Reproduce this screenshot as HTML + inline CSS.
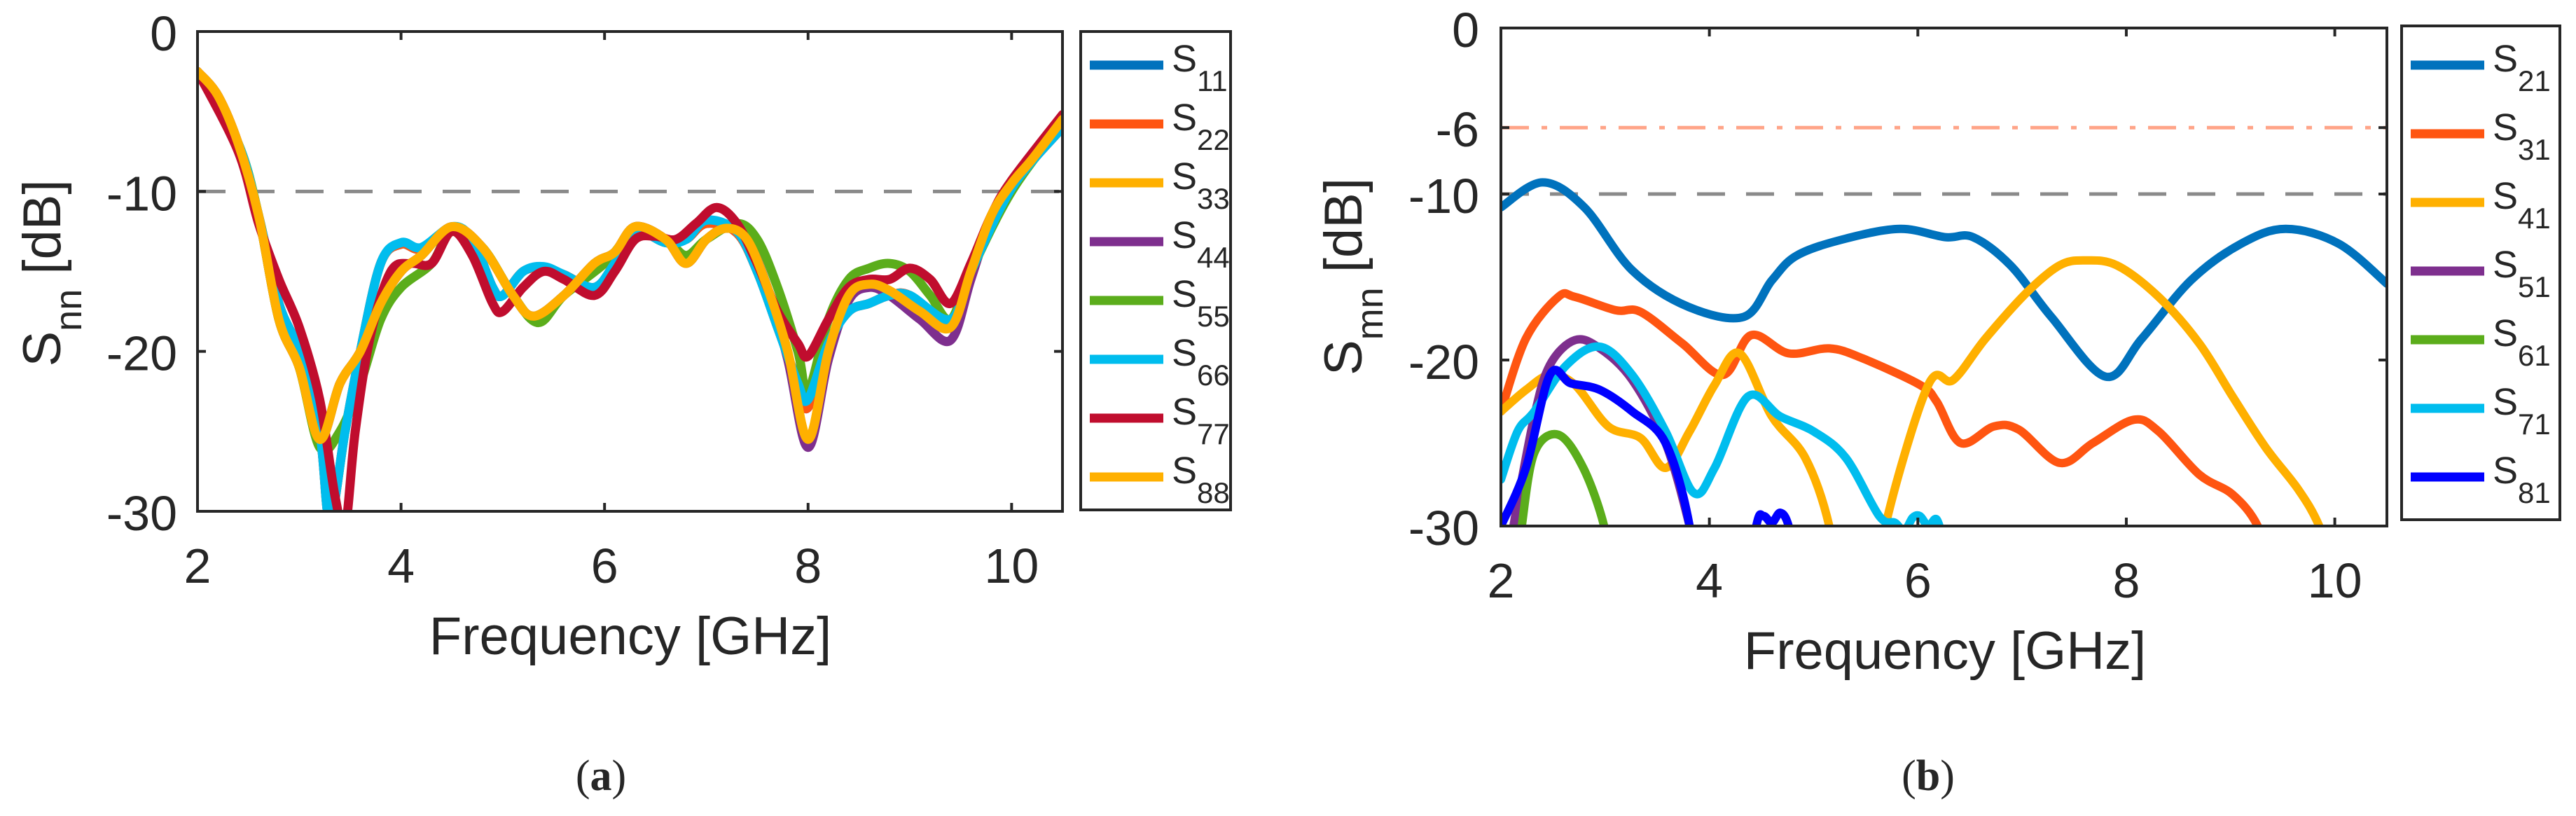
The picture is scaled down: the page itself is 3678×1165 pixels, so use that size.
<!DOCTYPE html>
<html><head><meta charset="utf-8"><style>
html,body{margin:0;padding:0;background:#fff;}
svg{display:block;}
text{font-family:"Liberation Sans",sans-serif;fill:#262626;}
</style></head><body>
<svg id="fig" width="3678" height="1165" viewBox="0 0 3678 1165" xmlns="http://www.w3.org/2000/svg">
<defs>
<clipPath id="clipA"><rect x="282" y="45" width="1235" height="685"/></clipPath>
<clipPath id="clipB"><rect x="2143" y="40" width="1265" height="711"/></clipPath>
</defs>
<g id="panelA"></g>
<g id="panelB"></g>
<text x="858" y="1128" text-anchor="middle" font-size="62" style="font-family:'Liberation Serif',serif">(<tspan font-weight="bold">a</tspan>)</text>
<text x="2753" y="1128" text-anchor="middle" font-size="62" style="font-family:'Liberation Serif',serif">(<tspan font-weight="bold">b</tspan>)</text>
</svg>
<script>
// ---- Panel (a) data ----
const xTicksA = [2, 4, 6, 8, 10];
const yTicksA = [0, -10, -20, -30];
const namesA = ["11","22","33","44","55","66","77","88"];
const colorsA = ["#0072BD","#FF5511","#FFB000","#7E2F8E","#5BAD1B","#00BDEE","#C00D2E","#FFB000"];
const s11f = [2,2.4,2.6,2.8,3.0,3.2,3.3,3.45,3.6,3.8,4.0,4.2,4.5,4.7,4.9,5.0,5.2,5.4,5.6,5.9,6.1,6.3,6.6,6.8,7.0,7.3,7.5,7.7,7.9,8.0,8.2,8.4,8.6,8.8,9.0,9.4,9.6,10,10.5];
const s11v = [-2.5,-7,-11.5,-17,-20,-25,-30.5,-25,-20,-14.5,-13.3,-13.6,-12.3,-13,-16,-16.5,-15,-14.8,-15.2,-16,-14.5,-12.5,-13.2,-13,-12,-12.6,-15,-18.5,-22,-23.5,-19.5,-17.5,-17,-16.5,-16.5,-18.3,-15,-9.8,-6];
const s22f = s11f;
const s22v = [-2.5,-7,-11.5,-17,-20,-25,-30.5,-25,-20,-14.5,-13.3,-13.6,-12.3,-13,-16,-16.5,-15,-14.8,-15.2,-16,-14.5,-12.5,-13.2,-13,-12,-12.6,-15,-18.5,-22,-23.5,-19.5,-17.5,-17,-16.5,-16.5,-18.3,-15,-9.8,-6];
const s33f = [2,2.2,2.4,2.6,2.8,3.0,3.2,3.4,3.6,3.8,4.0,4.2,4.5,4.8,5.1,5.3,5.6,5.9,6.1,6.3,6.6,6.8,7.0,7.2,7.4,7.6,7.8,8.0,8.2,8.4,8.6,8.8,9.1,9.4,9.6,9.8,10.0,10.2,10.5];
const s33v = [-2.5,-4,-7,-11.5,-18,-21,-25.5,-22,-20,-17,-15,-14,-12.2,-13.5,-16.5,-17.8,-16.5,-14.5,-13.8,-12.2,-13,-14.5,-13,-12.3,-13,-16,-20,-25.5,-20,-16.5,-15.8,-16.2,-17.5,-18.5,-15,-11.5,-9.5,-8,-5.5];
const s44f = s33f;
const s44v = [-2.5,-4,-7,-11.5,-18,-21,-25.5,-22,-20,-17,-15,-14,-12.2,-13.5,-16.5,-17.8,-16.5,-14.5,-13.8,-12.2,-13,-14.5,-13,-12.3,-13,-16,-20.5,-26,-20.5,-16.8,-16,-16.5,-18,-19.3,-15.5,-11.7,-9.6,-8,-5.5];
const s55f = [2,2.4,2.6,2.8,3.0,3.2,3.4,3.6,3.8,4.0,4.3,4.5,4.8,5.1,5.35,5.6,6.0,6.3,6.6,6.8,7.0,7.3,7.5,7.7,7.9,8.0,8.2,8.4,8.6,8.8,9.0,9.2,9.4,9.6,10,10.5];
const s55v = [-2.5,-7,-11.5,-18,-21,-26,-25,-22,-18,-16,-14.5,-12.5,-13.5,-16.5,-18.2,-16.5,-14.5,-12.5,-13,-14,-13,-12,-13,-16,-20,-22.5,-18,-15.5,-14.8,-14.5,-15,-16.5,-18,-15,-10,-5.7];
const s66f = s11f;
const s66v = [-2.5,-7,-11.5,-17,-20,-25,-30.5,-25,-20,-14.5,-13.2,-13.5,-12.2,-13,-16,-16.5,-15,-14.7,-15.2,-16,-14.5,-12.5,-13.2,-13,-11.8,-12.5,-15,-18.5,-22,-23,-19.5,-17.5,-17,-16.5,-16.5,-18,-15,-9.8,-6];
const s77f = [2,2.4,2.6,2.8,3.0,3.2,3.35,3.45,3.55,3.7,3.9,4.1,4.3,4.5,4.7,4.9,5.0,5.2,5.4,5.6,5.9,6.1,6.3,6.5,6.7,6.9,7.1,7.3,7.5,7.7,7.9,8.0,8.2,8.4,8.6,8.8,9.0,9.2,9.4,9.6,9.8,10,10.5];
const s77v = [-2.5,-7.5,-12,-15.5,-18.5,-23,-29,-31,-25,-19,-15,-14.5,-14.5,-12.5,-14,-17,-17.5,-16,-15,-15.5,-16.5,-15,-13,-12.8,-13,-12,-11,-12,-14.5,-17.5,-19.5,-20.3,-18,-16,-15.5,-15.5,-14.8,-15.5,-17,-14.5,-11.5,-9.3,-5.2];
const s88f = s33f;
const s88v = s33v.slice();
const freqsA = [s11f,s22f,s33f,s44f,s55f,s66f,s77f,s88f];
const valsA = [s11v,s22v,s33v,s44v,s55v,s66v,s77v,s88v];

// ---- Panel (b) data ----
const xTicksB = [2, 4, 6, 8, 10];
const yTicksB = [0, -6, -10, -20, -30];
const namesB = ["21","31","41","51","61","71","81"];
const colorsB = ["#0072BD","#FF5511","#FFB000","#7E2F8E","#5BAD1B","#00BDEE","#0000FF"];
const s21f = [2.0,2.4,2.8,3.26,3.8,4.33,4.6,4.84,5.3,5.83,6.26,6.53,6.89,7.28,7.8,8.15,8.62,9.1,9.53,10.04,10.5];
const s21v = [-10.8,-9.3,-10.8,-14.6,-16.8,-17.4,-15.2,-13.7,-12.7,-12.1,-12.6,-12.6,-14.3,-17.4,-21,-18.7,-15.2,-13,-12.1,-13,-15.4];
const s31f = [2,2.24,2.55,2.71,3.1,3.34,3.74,4.13,4.4,4.76,5.15,5.47,6.02,6.18,6.41,6.73,6.97,7.36,7.68,8.07,8.31,8.7,9.02,9.26,9.4];
const s31v = [-23.1,-18.7,-16.2,-16.2,-17,-17.1,-19,-20.9,-18.5,-19.6,-19.3,-19.9,-21.5,-22.5,-25,-24,-24.2,-26.2,-25,-23.6,-24.3,-26.9,-28.1,-30,-33];
const s41f = [2,2.24,2.47,2.71,3.03,3.34,3.58,3.81,4.05,4.29,4.6,4.92,5.15,5.3,5.55,5.7,6.1,6.34,6.65,7.05,7.36,7.6,7.91,8.31,8.7,9.02,9.34,9.65,9.85,10.0];
const s41v = [-23.1,-21.8,-20.9,-21.5,-24,-24.7,-26.5,-24.3,-21.5,-19.6,-23.4,-25.9,-30,-36,-36,-29.7,-21.5,-21.2,-18.7,-15.9,-14.3,-14,-14.3,-16.2,-19,-22.2,-25.3,-27.8,-30,-33];
const s51f = [2.05,2.12,2.32,2.47,2.71,2.95,3.26,3.58,3.81,3.9];
const s51v = [-33,-30,-23.4,-20.3,-18.8,-19.3,-21.2,-25,-30,-33];
const s61f = [2.15,2.2,2.32,2.55,2.79,2.99,3.05];
const s61v = [-33,-30,-25.6,-24.5,-26.5,-30,-33];
const s71f = [2,2.16,2.32,2.63,2.95,3.26,3.58,3.85,4.05,4.37,4.68,5.0,5.31,5.63,5.78,5.87,5.95,6.02,6.1,6.18,6.25];
const s71v = [-27.2,-24.3,-23.1,-20.3,-19.2,-20.9,-24.3,-28,-26.5,-22.2,-23.4,-24.3,-25.9,-29.4,-29.8,-30.3,-29.5,-29.4,-30,-29.6,-31];
const s81f = [2,2.24,2.47,2.67,2.95,3.26,3.58,3.81,3.9,4.3,4.45,4.52,4.6,4.68,4.76,4.85];
const s81v = [-30,-26.5,-20.9,-21.4,-21.8,-23.1,-25,-30,-36,-36,-30,-29.4,-29.8,-29.2,-30,-33];
const freqsB = [s21f,s31f,s41f,s51f,s61f,s71f,s81f];
const valsB = [s21v,s31v,s41v,s51v,s61v,s71v,s81v];

const NS = "http://www.w3.org/2000/svg";
function mk(parent, tag, attrs, txt){
  const e = document.createElementNS(NS, tag);
  for (const k in attrs) e.setAttribute(k, attrs[k]);
  if (txt !== undefined) e.textContent = txt;
  parent.appendChild(e);
  return e;
}
function smoothPath(pts){
  let d = "M" + pts[0][0].toFixed(1) + "," + pts[0][1].toFixed(1);
  for (let i = 0; i < pts.length - 1; i++){
    const p0 = pts[Math.max(0,i-1)], p1 = pts[i], p2 = pts[i+1], p3 = pts[Math.min(pts.length-1,i+2)];
    const c1x = p1[0] + (p2[0]-p0[0])/6, c1y = p1[1] + (p2[1]-p0[1])/6;
    const c2x = p2[0] - (p3[0]-p1[0])/6, c2y = p2[1] - (p3[1]-p1[1])/6;
    d += " C" + c1x.toFixed(1)+","+c1y.toFixed(1)+" "+c2x.toFixed(1)+","+c2y.toFixed(1)+" "+p2[0].toFixed(1)+","+p2[1].toFixed(1);
  }
  return d;
}

function drawPanel(cfg){
  const g = document.getElementById(cfg.id);
  const X = f => cfg.x0 + (f - 2) / 8.5 * (cfg.x1 - cfg.x0);
  const Y = v => cfg.y0 + (-v) / 30 * (cfg.y1 - cfg.y0);
  cfg.refs.forEach(r => {
    const l = mk(g, "line", {x1: cfg.x0, x2: cfg.x1, y1: Y(r.v), y2: Y(r.v), stroke: r.c, "stroke-width": 5, "stroke-dasharray": r.dash});
    
    
  });
  const sg = mk(g, "g", {"clip-path": "url(#" + cfg.clip + ")"});
  
  
  cfg.freqs.forEach((fr, i) => {
    const pts = fr.map((f, j) => [X(f), Y(cfg.vals[i][j])]);
    const p = mk(sg, "path", {d: smoothPath(pts), fill: "none", stroke: cfg.colors[i], "stroke-width": cfg.lw, "stroke-linejoin": "round", "stroke-linecap": "round"});
    
    
  });
  const box = mk(g, "rect", {x: cfg.x0, y: cfg.y0, width: cfg.x1 - cfg.x0, height: cfg.y1 - cfg.y0, fill: "none", stroke: "#262626", "stroke-width": 4});
  
  
  cfg.xticks.forEach(t => {
    const x = X(t);
    mk(g, "line", {x1: x, x2: x, y1: cfg.y1, y2: cfg.y1 - 12, stroke: "#262626", "stroke-width": 4});
    mk(g, "line", {x1: x, x2: x, y1: cfg.y0, y2: cfg.y0 + 12, stroke: "#262626", "stroke-width": 4});
    const tl = mk(g, "text", {x: x, y: cfg.y1 + 102, "text-anchor": "middle", "font-size": 70}, String(t));
    
    
  });
  cfg.yticks.forEach(t => {
    const y = Y(t);
    mk(g, "line", {x1: cfg.x0, x2: cfg.x0 + 12, y1: y, y2: y, stroke: "#262626", "stroke-width": 4});
    mk(g, "line", {x1: cfg.x1, x2: cfg.x1 - 12, y1: y, y2: y, stroke: "#262626", "stroke-width": 4});
    const tl = mk(g, "text", {x: cfg.ylabx, y: y + 27, "text-anchor": "end", "font-size": 70}, String(t));
    
    
  });
  const xt = mk(g, "text", {x: cfg.xtitleX, y: cfg.xtitleY, "text-anchor": "middle", "font-size": 76}, "Frequency [GHz]");
  
  
  const yt = mk(g, "text", {transform: "translate(" + cfg.ytitleX + "," + cfg.ytitleY + ") rotate(-90)", "text-anchor": "middle", "font-size": 76});
  
  
  mk(yt, "tspan", {}, "S");
  mk(yt, "tspan", {dy: 30, "font-size": 54}, cfg.ysub);
  mk(yt, "tspan", {dy: -30}, " [dB]");
  const lg = mk(g, "g", {});
  
  
  mk(lg, "rect", {x: cfg.lx, y: cfg.ly, width: cfg.lw2, height: cfg.lh, fill: "#fff", stroke: "#262626", "stroke-width": 4});
  cfg.names.forEach((n, i) => {
    const cy = cfg.ly + cfg.lfirst + i * cfg.lstep;
    const e = mk(lg, "g", {});
    
    
    mk(e, "line", {x1: cfg.lx + 13, x2: cfg.lx + 118, y1: cy, y2: cy, stroke: cfg.colors[i], "stroke-width": 13});
    const t = mk(e, "text", {x: cfg.lx + 130, y: cy + 9, "font-size": 54});
    mk(t, "tspan", {}, "S");
    mk(t, "tspan", {dy: 28, "font-size": 42}, n);
  });
}

drawPanel({id: "panelA", clip: "clipA", x0: 282, x1: 1517, y0: 45, y1: 730, freqs: freqsA, vals: valsA, colors: colorsA, names: namesA, lw: 13,
  xticks: xTicksA, yticks: yTicksA, ylabx: 253, xtitleX: 900, xtitleY: 934, ytitleX: 86, ytitleY: 390, ysub: "nn",
  refs: [{v: -10, c: "#8a8a8a", dash: "40 30", name: "threshold-line-10db"}],
  lx: 1543, ly: 45, lw2: 214, lh: 683, lfirst: 48, lstep: 84});
drawPanel({id: "panelB", clip: "clipB", x0: 2143, x1: 3408, y0: 40, y1: 751, freqs: freqsB, vals: valsB, colors: colorsB, names: namesB, lw: 12,
  xticks: xTicksB, yticks: yTicksB, ylabx: 2112, xtitleX: 2777, xtitleY: 955, ytitleX: 1944, ytitleY: 395, ysub: "mn",
  refs: [{v: -6, c: "#FFA488", dash: "40 18 8 18", name: "threshold-line-6db"}, {v: -10, c: "#8a8a8a", dash: "40 30", name: "threshold-line-10db"}],
  lx: 3429, ly: 37, lw2: 226, lh: 705, lfirst: 56, lstep: 98});
</script>
</body></html>
